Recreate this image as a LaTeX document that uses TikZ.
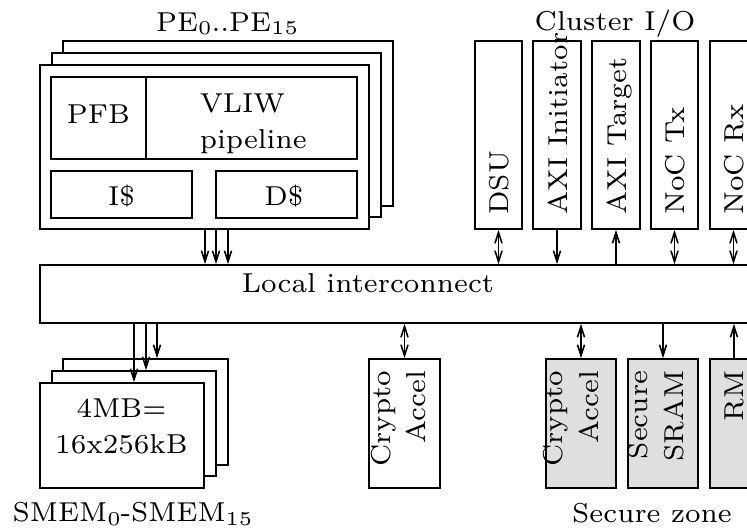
\documentclass[tikz,border=0pt]{standalone}
\usepackage{graphicx}
\usetikzlibrary{fit,arrows.meta}
\newcommand\mysub[1]{\raisebox{-0.8pt}{\fontsize{5}{6}\selectfont #1}}
\begin{document}
\begin{tikzpicture}[x=0.2558pt,y=-0.2558pt,
  box/.style={draw,line width=0.4pt,inner sep=0pt,fill=white},
  sbox/.style={box,fill=gray!25},
  txt/.style={inner sep=0pt,font=\fontsize{7}{9.2}\selectfont},
  rtxt/.style={txt,rotate=90},
  arr/.style={line width=0.4pt,-{Straight Barb[length=2.8pt,width=1.8pt]}},
  barr/.style={line width=0.4pt,{Straight Barb[length=2.8pt,width=1.8pt]}-{Straight Barb[length=2.8pt,width=1.8pt]}},
]
\useasboundingbox (0,0) rectangle (747,531);
\clip (0,0) rectangle (747,531);

% ---- PE stack ----
\node[box, fit={(63,41) (393,206)}] (pe3) {};
\node[box, fit={(52,53) (381,217)}] (pe2) {};
\node[box, fit={(40,65) (369,229)}] (pe1) {};
\node[box, fit={(51,77) (146,159)}] (pfb) {};
\node[box, fit={(146,77) (357,159)}] (vliw) {};
\node[box, fit={(51,171) (192,218)}] (icache) {};
\node[box, fit={(216,171) (357,218)}] (dcache) {};
\node[txt, anchor=base] (pfbt) at (98.5,124) {PFB};
\node[txt, anchor=base west] (vliwt) at (199,113) {\begin{tabular}[t]{@{}l@{}}VLIW\\pipeline\end{tabular}};
\node[txt, anchor=base] (icachet) at (121.5,206) {I\$};
\node[txt, anchor=base] (dcachet) at (284,206) {D\$};
\node[txt, anchor=base] (petitle) at (227,31.5) {PE\mysub{0}..PE\mysub{15}};

% ---- interconnect ----
\node[box, fit={(40,265) (790,323)}] (ic) {};
\node[txt, anchor=base] (ict) at (368,293) {Local interconnect};

% ---- cluster I/O ----
\node[box, fit={(475,41) (522,229)}] (dsu) {};
\node[box, fit={(533,41) (581,229)}] (axii) {};
\node[box, fit={(592,41) (640,229)}] (axit) {};
\node[box, fit={(651,41) (698,229)}] (noctx) {};
\node[box, fit={(710,41) (757,229)}] (nocrx) {};
\node[rtxt, anchor=base west] (dsut) at (508.5,215.5) {DSU};
\node[rtxt, anchor=base west] (axiit) at (567,215.5) {AXI Initiator};
\node[rtxt, anchor=base west] (axitt) at (626,215.5) {AXI Target};
\node[rtxt, anchor=base west] (noctxt) at (684.5,215.5) {NoC Tx};
\node[rtxt, anchor=base west] (nocrxt) at (743.5,215.5) {NoC Rx};
\node[txt, anchor=base] (cio) at (615,30.5) {Cluster I/O};

% ---- PE -> interconnect ----
\coordinate (a1) at (205,0);
\coordinate (a2) at (216,0);
\coordinate (a3) at (228,0);
\draw[arr] (a1 |- pe1.south) -- (a1 |- ic.north);
\draw[arr] (a2 |- pe1.south) -- (a2 |- ic.north);
\draw[arr] (a3 |- pe1.south) -- (a3 |- ic.north);

\draw[barr] (dsu.south) -- (dsu.south |- ic.north);
\draw[arr] (axii.south) -- (axii.south |- ic.north);
\draw[arr] (axit.south |- ic.north) -- (axit.south);
\draw[barr] (noctx.south) -- (noctx.south |- ic.north);
\draw[barr] (nocrx.south) -- (nocrx.south |- ic.north);

% ---- SMEM stack ----
\node[box, fit={(63,359) (228,465)}] (sm3) {};
\node[box, fit={(52,371) (216,476)}] (sm2) {};
\node[box, fit={(40,383) (204,488)}] (sm1) {};
\node[txt, anchor=base] (smt) at (121.5,418) {\begin{tabular}[t]{@{}c@{}}4MB=\\16x256kB\end{tabular}};
\node[txt, anchor=base] (smlabel) at (132.5,522) {SMEM\mysub{0}-SMEM\mysub{15}};
\coordinate (s1) at (134,0);
\coordinate (s2) at (146,0);
\coordinate (s3) at (157,0);
\draw[arr] (s1 |- ic.south) -- (s1 |- sm1.north);
\draw[arr] (s2 |- ic.south) -- (s2 |- sm2.north);
\draw[arr] (s3 |- ic.south) -- (s3 |- sm3.north);

% ---- accelerators / secure zone ----
\node[box, fit={(369,359) (440,488)}] (cr) {};
\node[sbox, fit={(546,359) (616,488)}] (scr) {};
\node[sbox, fit={(628,359) (698,488)}] (ssram) {};
\node[sbox, fit={(710,359) (758,488)}] (rm) {};
\node[rtxt, anchor=base east] (crt) at (390,370) {\begin{tabular}[t]{@{}r@{}}Crypto\\Accel\end{tabular}};
\node[rtxt, anchor=base east] (scrt) at (563,370) {\begin{tabular}[t]{@{}r@{}}Crypto\\Accel\end{tabular}};
\node[rtxt, anchor=base east] (ssramt) at (648,370) {\begin{tabular}[t]{@{}r@{}}Secure\\SRAM\end{tabular}};
\node[rtxt, anchor=base east] (rmt) at (743,370) {RM};
\node[txt, anchor=base] (szone) at (652,522.5) {Secure zone};

\draw[barr] (ic.south -| cr.north) -- (cr.north);
\draw[barr] (ic.south -| scr.north) -- (scr.north);
\draw[arr] (ic.south -| ssram.north) -- (ssram.north);
\draw[arr] (rm.north) -- (ic.south -| rm.north);
\end{tikzpicture}
\end{document}
